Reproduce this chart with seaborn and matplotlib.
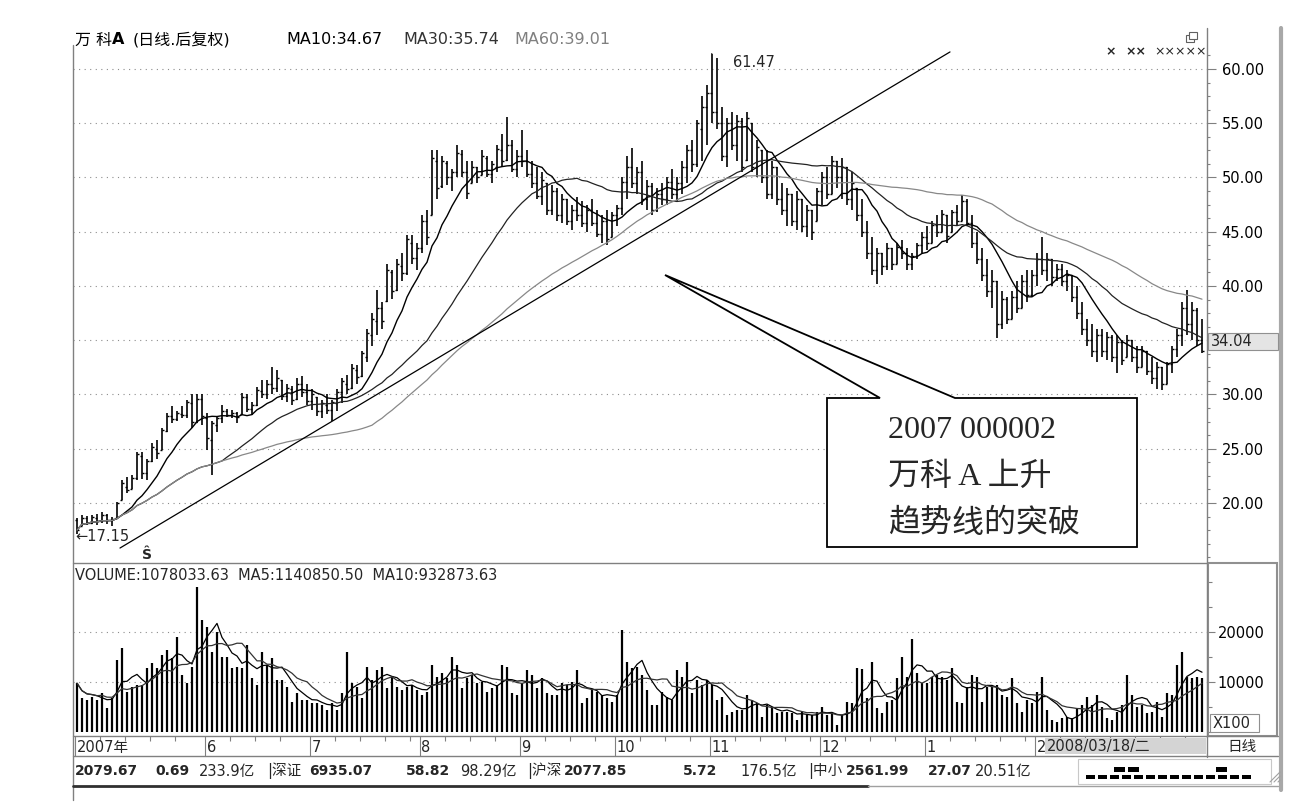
import numpy as np
import pandas as pd
import matplotlib
matplotlib.use("Agg")
import matplotlib.pyplot as plt
import seaborn as sns
from matplotlib.patches import Rectangle, Polygon
from matplotlib.ticker import MultipleLocator

# ---- daily bars (back-adjusted price, volume in x100 shares) ----
opens = [18.4, 17.9, 18.6, 18.2, 18.6, 18.3, 18.9, 18.4, 18.6, 20.3,
         21.5, 21.3, 22.3, 24.3, 22.8, 23.9, 25.0, 24.9, 26.6, 28.0,
         27.7, 28.2, 28.1, 29.2, 27.5, 29.6, 27.8, 25.8, 27.2, 27.8,
         28.5, 28.1, 28.3, 28.2, 29.8, 28.7, 29.0, 30.3, 30.0, 31.0,
         30.6, 31.3, 29.9, 30.5, 29.6, 31.0, 30.2, 29.4, 29.8, 28.5,
         29.0, 28.6, 29.2, 30.2, 31.0, 30.6, 32.3, 31.7, 33.5, 35.5,
         36.8, 38.0, 38.6, 41.3, 39.6, 41.8, 41.2, 44.0, 42.6, 43.5,
         46.0, 46.5, 51.5, 49.2, 51.3, 50.0, 50.5, 52.2, 50.5, 49.5,
         51.0, 50.2, 51.8, 50.3, 51.0, 52.5, 51.6, 53.0, 50.8, 52.0,
         51.5, 50.3, 49.5, 48.3, 49.5, 47.0, 48.8, 46.5, 48.0, 46.0,
         47.0, 46.5, 45.8, 47.0, 45.8, 44.8, 46.0, 44.5, 46.5, 47.2,
         49.6, 51.0, 49.5, 50.5, 48.0, 49.2, 47.0, 48.5, 48.0, 49.6,
         48.5, 49.5, 51.0, 52.5, 51.2, 54.5, 56.5, 57.8, 56.0, 55.0,
         52.0, 55.0, 53.0, 55.2, 51.6, 55.0, 51.0, 52.5, 50.0, 48.5,
         51.0, 48.0, 47.0, 48.5, 46.0, 48.0, 45.5, 47.0, 46.0, 48.8,
         50.0, 48.5, 51.5, 50.0, 51.0, 48.0, 49.0, 46.5, 45.0, 43.0,
         41.5, 43.0, 41.8, 43.5, 42.0, 43.6, 43.0, 42.0, 42.8, 43.8,
         44.5, 44.0, 45.6, 45.0, 46.5, 45.0, 46.8, 46.0, 47.8, 45.8,
         44.0, 42.5, 41.0, 39.5, 40.5, 36.5, 38.8, 37.0, 39.0, 38.0,
         40.5, 39.2, 41.0, 42.5, 41.5, 42.5, 40.8, 41.6, 40.5, 41.0,
         39.0, 37.5, 36.0, 35.0, 34.0, 35.5, 34.0, 35.3, 33.5, 34.8,
         33.5, 35.0, 33.5, 32.5, 34.0, 32.2, 31.5, 32.5, 31.0, 32.8,
         34.2, 35.5, 38.0, 36.5, 37.8, 35.0]

highs = [18.6, 18.9, 18.8, 18.9, 19.0, 19.2, 19.0, 18.7, 20.1, 22.1,
         22.4, 22.6, 24.7, 24.7, 24.1, 25.5, 25.8, 26.9, 28.3, 28.9,
         28.5, 28.9, 29.5, 30.0, 30.0, 30.0, 28.3, 27.6, 28.0, 29.0,
         28.7, 28.6, 28.4, 30.1, 30.0, 29.3, 30.7, 31.3, 31.3, 32.5,
         32.3, 31.3, 31.0, 30.8, 31.5, 31.7, 31.0, 30.5, 29.8, 29.5,
         30.0, 29.5, 30.5, 31.5, 31.8, 32.8, 32.7, 34.0, 36.0, 37.5,
         39.6, 38.5, 42.0, 41.5, 42.5, 43.0, 44.7, 44.7, 44.0, 46.5,
         47.0, 52.5, 52.5, 52.0, 51.5, 50.8, 53.0, 52.5, 51.5, 51.5,
         51.0, 52.5, 52.0, 51.5, 53.0, 54.0, 55.6, 53.5, 52.5, 54.4,
         52.5, 51.5, 51.0, 50.5, 49.5, 49.3, 49.0, 48.5, 48.0, 47.5,
         48.2, 47.8, 47.5, 48.0, 47.0, 46.5, 47.0, 46.8, 47.5, 50.0,
         52.0, 52.7, 51.0, 51.5, 49.8, 49.5, 49.0, 49.5, 50.0, 50.8,
         50.0, 51.5, 53.0, 53.5, 55.3, 57.5, 58.5, 61.47, 61.0, 56.5,
         55.5, 56.0, 55.8, 55.5, 56.0, 55.0, 53.5, 52.5, 52.5, 51.5,
         51.0, 49.5, 49.0, 48.5, 48.8, 48.0, 47.5, 47.0, 49.0, 50.5,
         51.0, 52.0, 51.5, 51.8, 51.0, 50.5, 49.0, 48.0, 46.0, 44.5,
         43.5, 43.0, 44.0, 43.5, 44.0, 44.2, 43.5, 43.0, 44.0, 45.0,
         45.5, 46.0, 46.5, 47.0, 46.5, 47.0, 47.5, 48.4, 48.0, 46.5,
         45.0, 43.5, 42.5, 41.5, 40.5, 39.5, 39.0, 39.5, 40.5, 41.0,
         41.5, 41.5, 43.0, 44.5, 43.0, 42.5, 42.0, 42.0, 41.5, 41.0,
         40.0, 38.5, 37.0, 36.5, 36.0, 36.0, 35.8, 35.5, 35.5, 35.0,
         35.5, 35.0, 34.5, 34.5, 34.0, 33.5, 33.0, 32.5, 33.0, 34.5,
         36.0, 38.5, 39.6, 38.5, 38.0, 37.0]

lows = [17.15, 17.9, 18.0, 18.1, 18.0, 18.2, 18.1, 17.9, 18.6, 20.3,
        20.9, 21.3, 22.1, 22.2, 22.1, 23.8, 24.1, 24.9, 26.5, 27.4,
        27.6, 27.8, 27.8, 26.9, 27.4, 27.2, 24.9, 22.6, 26.5, 27.4,
        27.9, 27.8, 27.4, 28.1, 28.4, 28.1, 28.9, 29.7, 29.6, 30.0,
        30.2, 29.5, 29.3, 29.0, 29.5, 29.8, 29.0, 28.6, 28.0, 27.8,
        28.2, 27.6, 28.5, 29.2, 30.0, 30.5, 31.0, 31.6, 33.0, 34.5,
        35.5, 36.0, 38.5, 38.8, 39.5, 40.5, 41.0, 42.0, 41.5, 43.0,
        43.8, 46.5, 48.0, 49.0, 49.3, 48.8, 50.0, 50.0, 48.0, 49.5,
        49.5, 50.2, 50.0, 49.5, 50.5, 51.0, 51.5, 50.5, 50.0, 51.0,
        50.0, 49.0, 48.0, 47.5, 46.5, 46.5, 46.0, 45.8, 45.6, 45.2,
        46.0, 45.4, 45.0, 45.5, 44.5, 44.0, 43.8, 44.5, 45.5, 46.5,
        48.0, 49.0, 48.5, 47.5, 47.0, 46.5, 46.8, 47.5, 47.5, 48.0,
        47.8, 48.5, 49.5, 50.5, 51.0, 51.5, 53.0, 55.0, 54.5, 51.5,
        51.0, 52.5, 51.5, 50.5, 51.5, 50.5, 50.0, 49.5, 48.0, 48.0,
        47.5, 46.5, 45.5, 45.5, 45.2, 45.0, 44.5, 44.2, 46.0, 47.5,
        48.0, 48.5, 49.0, 48.0, 47.5, 47.0, 46.0, 44.5, 42.5, 41.0,
        40.2, 41.0, 41.5, 41.5, 42.0, 42.5, 41.5, 41.5, 42.5, 43.0,
        43.3, 44.0, 44.5, 45.0, 44.0, 45.0, 45.5, 46.0, 45.5, 43.5,
        42.0, 40.5, 39.0, 38.0, 35.2, 36.0, 36.5, 37.0, 37.5, 38.0,
        38.5, 39.0, 40.0, 41.0, 40.5, 40.0, 40.5, 40.0, 39.5, 38.5,
        37.0, 35.5, 34.5, 33.5, 33.0, 33.5, 33.2, 33.0, 32.0, 32.7,
        33.5, 33.0, 32.0, 32.5, 31.8, 31.0, 30.5, 30.4, 31.0, 32.0,
        33.5, 34.5, 35.5, 35.0, 34.5, 33.8]

closes = [17.5, 18.6, 18.2, 18.7, 18.3, 18.9, 18.4, 18.5, 20.0, 21.8,
          21.2, 22.3, 24.5, 22.8, 23.9, 25.2, 24.6, 26.7, 28.0, 27.7,
          28.3, 28.1, 29.3, 27.5, 29.6, 28.0, 26.0, 27.4, 27.8, 28.5,
          28.1, 28.3, 27.9, 29.8, 28.7, 29.0, 30.4, 30.0, 31.0, 30.6,
          31.5, 29.9, 30.6, 29.5, 31.0, 30.2, 29.4, 30.0, 28.5, 29.2,
          28.6, 29.3, 30.2, 31.2, 30.5, 32.4, 31.6, 33.8, 35.7, 37.0,
          38.0, 36.8, 41.5, 39.5, 42.0, 41.2, 44.3, 42.6, 43.5, 46.0,
          44.5, 51.8, 49.0, 51.5, 50.0, 50.5, 52.3, 50.5, 48.6, 51.0,
          50.0, 52.0, 50.3, 51.2, 52.6, 51.5, 53.0, 50.8, 52.0, 51.5,
          50.3, 49.5, 48.3, 49.8, 47.0, 48.8, 46.5, 48.0, 46.0, 47.0,
          46.5, 45.8, 47.0, 45.8, 44.8, 46.0, 44.3, 46.5, 47.2, 49.6,
          51.0, 49.5, 50.5, 48.0, 49.2, 47.0, 48.5, 48.0, 49.6, 48.5,
          49.5, 51.0, 52.5, 51.2, 55.0, 56.5, 57.8, 56.0, 55.0, 52.0,
          55.0, 53.0, 55.2, 51.0, 55.5, 51.0, 52.8, 50.0, 48.5, 51.0,
          48.0, 47.0, 48.5, 46.0, 48.0, 45.5, 47.0, 45.0, 48.8, 50.0,
          48.5, 51.5, 50.0, 51.0, 48.0, 49.5, 46.5, 45.0, 43.0, 41.5,
          43.0, 41.8, 43.5, 42.0, 43.6, 43.0, 42.0, 42.8, 43.8, 44.5,
          44.0, 45.6, 45.0, 46.6, 44.6, 46.8, 46.0, 47.8, 45.8, 44.0,
          42.5, 41.0, 39.5, 40.5, 36.5, 38.8, 37.0, 39.0, 38.0, 40.5,
          39.2, 41.0, 42.5, 41.5, 42.5, 40.8, 41.6, 40.5, 41.0, 39.0,
          37.5, 36.0, 35.0, 34.0, 35.5, 34.0, 35.3, 33.5, 34.8, 33.2,
          35.0, 33.5, 32.5, 34.0, 32.2, 31.5, 32.5, 31.0, 32.8, 34.2,
          35.5, 38.0, 36.5, 37.8, 35.0, 34.04]

volume = [9700, 6700, 6300, 7000, 6300, 7700, 4700, 6700, 14300, 16700,
          8000, 9000, 9300, 9300, 12700, 13700, 12700, 15300, 16300, 14700,
          19000, 11300, 9700, 13000, 29000, 22300, 21000, 16000, 20000, 15000,
          15000, 12700, 13000, 12700, 17300, 10700, 9300, 16000, 13300, 14700,
          10300, 10300, 9000, 6000, 7700, 6300, 6300, 5700, 5700, 5300,
          4300, 5700, 4300, 7700, 16000, 9700, 9000, 6700, 13000, 10300,
          12300, 13000, 8700, 11000, 9000, 8300, 9000, 9300, 8300, 7300,
          8000, 13300, 11000, 11700, 10700, 15000, 13300, 8700, 10700, 11300,
          9700, 10000, 8000, 8700, 9300, 13300, 13000, 7700, 7300, 9700,
          12300, 11300, 8700, 10700, 7700, 7300, 7300, 9700, 9300, 10000,
          12300, 5700, 6700, 8300, 8000, 7300, 6700, 6000, 7300, 20300,
          14000, 12700, 13000, 11300, 8300, 5300, 5300, 8000, 7000, 6300,
          12300, 11000, 14000, 7700, 10300, 9300, 10300, 9300, 6300, 7000,
          3300, 4000, 4300, 4300, 7300, 6300, 5700, 3000, 5300, 4700,
          3700, 4000, 4000, 3700, 2300, 4000, 3300, 3300, 4000, 5000,
          3300, 3700, 1300, 3300, 6000, 5700, 12700, 12500, 6700, 14000,
          4700, 3700, 6000, 6300, 10700, 14900, 11000, 18500, 11700, 9700,
          9700, 11000, 11300, 11000, 10300, 12700, 6000, 5700, 9000, 11300,
          11000, 6000, 9000, 9000, 9300, 7300, 7000, 10700, 5700, 4000,
          6300, 5700, 8000, 11000, 4300, 2300, 2000, 2700, 3000, 2700,
          4700, 5300, 7000, 5300, 7300, 5000, 2700, 2300, 4000, 5300,
          11300, 7300, 5000, 5300, 3700, 4000, 6000, 3000, 7700, 7300,
          13300, 16000, 11000, 10700, 11000, 10800]

month_labels = ["2007年", "6", "7", "8", "9", "10", "11", "12", "1", "2"]
month_starts = [0, 26, 47, 69, 89, 108, 127, 149, 170, 192]

price_ticks = [20, 25, 30, 35, 40, 45, 50, 55, 60]
volume_ticks = [10000, 20000]

# hand-drawn uptrend line (bar index, price) at its two ends
trend_x = [8.6, 174.6]
trend_y = [15.85, 61.57]

# (text, x pixel, colour, bold)
title_parts = [("万 科", 75, "black", False),
               ("A", 112, "black", True),
               ("(日线.后复权)", 133, "black", False),
               ("MA10:34.67", 286, "black", False),
               ("MA30:35.74", 403, "#333333", False),
               ("MA60:39.01", 514, "#808080", False)]
volume_title = "VOLUME:1078033.63  MA5:1140850.50  MA10:932873.63"
callout_lines = ["2007 000002", "万科 A 上升", "趋势线的突破"]
last_date = "2008/03/18/二"

status_parts = [(75, "2079.67", True), (155, "0.69", True), (199, "233.9亿", False),
                (267, "|深证", False), (309, "6935.07", True), (406, "58.82", True),
                (460, "98.29亿", False), (527, "|沪深", False), (564, "2077.85", True),
                (683, "5.72", True), (740, "176.5亿", False), (808, "|中小", False),
                (846, "2561.99", True), (928, "27.07", True), (975, "20.51亿", False)]

#%%
df = pd.DataFrame({"idx": np.arange(len(closes)), "open": opens, "high": highs,
                   "low": lows, "close": closes, "vol": volume})
df["ma10"] = df["close"].rolling(10, min_periods=1).mean()
df["ma30"] = df["close"].rolling(30, min_periods=1).mean()
df["ma60"] = df["close"].rolling(60, min_periods=1).mean()
df["vma5"] = df["vol"].rolling(5, min_periods=1).mean()
df["vma10"] = df["vol"].rolling(10, min_periods=1).mean()

sns.set_theme(style="white")
plt.rcParams["font.family"] = ["DejaVu Sans", "Noto Sans CJK SC"]
plt.rcParams["axes.unicode_minus"] = False
CJK = ["DejaVu Sans", "Noto Sans CJK SC"]
SERIF = ["Liberation Serif", "Noto Sans CJK SC"]
GRID = dict(color="#8c8c8c", lw=0.8, ls=(0, (1, 4)), zorder=0)
FRAME = "#808080"

W, H = 1316, 805
fig = plt.figure(figsize=(W / 100, H / 100), dpi=100, facecolor="white")


def rect(x0, y0, x1, y1):
    return [x0 / W, 1 - y1 / H, (x1 - x0) / W, (y1 - y0) / H]


ax_p = fig.add_axes(rect(73, 45, 1207, 563))
ax_v = fig.add_axes(rect(73, 563, 1207, 736))
ax_x = fig.add_axes(rect(73, 736, 1207, 756))
xlim = (-0.8, len(closes))

#%%
# price panel: OHLC bars, moving averages, trend line
for y in price_ticks:
    ax_p.axhline(y, **GRID)
ax_p.vlines(df["idx"], df["low"], df["high"], color="black", lw=1.2)
ax_p.hlines(df["open"], df["idx"] - 0.45, df["idx"], color="black", lw=1.0)
ax_p.hlines(df["close"], df["idx"], df["idx"] + 0.45, color="black", lw=1.0)
sns.lineplot(data=df, x="idx", y="ma10", ax=ax_p, color="black", lw=1.0, errorbar=None)
sns.lineplot(data=df, x="idx", y="ma30", ax=ax_p, color="#222222", lw=0.9, errorbar=None)
sns.lineplot(data=df, x="idx", y="ma60", ax=ax_p, color="#888888", lw=0.9, errorbar=None)
ax_p.plot(trend_x, trend_y, color="black", lw=0.9)

imax = int(df["high"].idxmax())
ax_p.annotate(f"{df['high'].max():.2f}", xy=(imax, df["high"].max()),
              xytext=(15, -6.5), textcoords="offset points", ha="left", va="center",
              fontsize=10.5, arrowprops=dict(arrowstyle="-", lw=0.8, shrinkA=0, shrinkB=0))
imin = int(df["low"].idxmin())
ax_p.annotate(f"←{df['low'].min():.2f}", xy=(imin, df["low"].min()),
              xytext=(-1.5, -2), textcoords="offset points", ha="left", va="center",
              fontsize=10.5)

ax_p.set_xlim(*xlim)
ax_p.set_ylim(14.47, 62.21)
ax_p.set_yticks(price_ticks)
# the 35.00 label sits under the last-close box
ax_p.set_yticklabels(["" if t == 35 else f"{t:.2f}" for t in price_ticks])
ax_p.yaxis.set_minor_locator(MultipleLocator(1.25))
ax_p.tick_params(axis="y", which="both", right=True, left=False, labelright=True,
                 labelleft=False, direction="out", color=FRAME, width=0.8,
                 labelcolor="black", labelsize=10.5)
ax_p.tick_params(axis="y", which="major", length=6.5, pad=4)
ax_p.tick_params(axis="y", which="minor", length=2.5)
ax_p.set_xticks([])
ax_p.set_xlabel("")
ax_p.set_ylabel("")

#%%
# volume panel
for y in volume_ticks:
    ax_v.axhline(y, **GRID)
ax_v.vlines(df["idx"], 0, df["vol"], color="black", lw=1.6)
sns.lineplot(data=df, x="idx", y="vma5", ax=ax_v, color="black", lw=0.9, errorbar=None)
sns.lineplot(data=df, x="idx", y="vma10", ax=ax_v, color="#333333", lw=0.9, errorbar=None)
ax_v.set_xlim(*xlim)
ax_v.set_ylim(-860, 33740)
ax_v.set_yticks(volume_ticks)
ax_v.set_yticklabels([str(t) for t in volume_ticks])
ax_v.yaxis.set_minor_locator(MultipleLocator(5000))
ax_v.tick_params(axis="y", which="both", right=True, left=False, labelright=True,
                 labelleft=False, direction="out", color=FRAME, width=0.8,
                 labelcolor="black", labelsize=10.5)
ax_v.tick_params(axis="y", which="major", length=6, pad=1.5)
ax_v.tick_params(axis="y", which="minor", length=3.5)
ax_v.set_xticks([])
ax_v.set_xlabel("")
ax_v.set_ylabel("")
ax_v.text(0.002, 0.93, volume_title, transform=ax_v.transAxes, fontsize=10.5,
          va="center", ha="left")

#%%
# month axis row
ax_x.set_xlim(*xlim)
ax_x.set_ylim(0, 1)
for lab, s in zip(month_labels, month_starts):
    ax_x.vlines(s - 0.5, 0, 1, color=FRAME, lw=0.8)
    ax_x.text(s - 0.1, 0.45, lab, fontsize=10.5, va="center", ha="left", family=CJK)
for s, e in zip(month_starts, month_starts[1:] + [len(closes)]):
    for t in range(s + 5, e - 1, 5):
        ax_x.vlines(t - 0.5, 0.75, 1, color=FRAME, lw=0.8)
ax_x.set_xticks([])
ax_x.set_yticks([])

for a in (ax_p, ax_v, ax_x):
    for sp in a.spines.values():
        sp.set_visible(False)

#%%
# overlay in pixel coordinates: frame, labels, callout, status bar
ax_o = fig.add_axes([0, 0, 1, 1])
ax_o.set_xlim(0, W)
ax_o.set_ylim(H, 0)
ax_o.axis("off")

ax_o.plot([73, 73], [45, 800], color=FRAME, lw=1)
ax_o.plot([1207, 1207], [28, 757], color=FRAME, lw=1)
ax_o.plot([73, 1207], [563, 563], color=FRAME, lw=1)
ax_o.plot([73, 1278], [736, 736], color=FRAME, lw=1)
ax_o.plot([73, 1278], [756, 756], color=FRAME, lw=1)
ax_o.plot([73, 868], [786, 786], color="#303030", lw=2)
ax_o.plot([868, 1278], [786, 786], color="#a0a0a0", lw=1)
ax_o.plot([1281, 1281], [28, 790], color="#a8a8a8", lw=3)
ax_o.add_patch(Rectangle((1208, 563), 69, 173, fc="none", ec="#909090", lw=1.5))

for txt, x, c, bold in title_parts:
    ax_o.text(x, 40, txt, fontsize=11.5, color=c, va="center", ha="left", family=CJK,
              fontweight="bold" if bold else "normal")

# window icon and info markers top right
ax_o.add_patch(Rectangle((1186, 35), 8, 7, fc="white", ec="#606060", lw=0.8))
ax_o.add_patch(Rectangle((1189, 32), 8, 7, fc="white", ec="#606060", lw=0.8))
for x, txt, bold in [(1111, "×", True), (1136, "××", True), (1181, "×××××", False)]:
    ax_o.text(x, 52, txt, fontsize=9, ha="center", va="center",
              fontweight="bold" if bold else "normal")

ax_o.text(147, 555, "Ŝ", fontsize=10, fontweight="bold", ha="center", va="center")

# last-close box on the price axis
ax_o.add_patch(Rectangle((1208, 333), 70, 17, fc="#e4e4e4", ec="#909090", lw=0.8, zorder=5))
ax_o.text(1211, 341.5, f"{closes[-1]:.2f}", fontsize=10.5, va="center", ha="left", zorder=6)

# volume unit and period; date box sits just right of the partly hidden "2"
ax_o.add_patch(Rectangle((1210, 714), 49, 18, fc="white", ec="#909090", lw=0.8))
ax_o.text(1213, 723, "X100", fontsize=10.5, va="center", ha="left")
ax_o.text(1242, 746, "日线", fontsize=10.5, va="center", ha="center", family=CJK)
ax_o.add_patch(Rectangle((1045, 738), 161, 16, fc="#d4d4d4", ec="none", zorder=4))
ax_o.text(1047, 746, last_date, fontsize=10.5, va="center", ha="left", family=CJK, zorder=5)

# callout box with pointer
pts = [(827, 398), (880, 398), (665, 275), (955, 398), (1137, 398), (1137, 547), (827, 547)]
ax_o.add_patch(Polygon(pts, closed=True, fc="white", ec="black", lw=1.3, zorder=8))
for k, line in enumerate(callout_lines):
    ax_o.text(888, 438 + k * 47, line, fontsize=23, family=SERIF, fontweight="light",
              va="baseline", ha="left", zorder=9)

# status bar
for x, txt, bold in status_parts:
    ax_o.text(x, 771, txt, fontsize=10 if bold else 10.5, va="center", ha="left",
              fontweight="bold" if bold else "normal", family=CJK)
ax_o.add_patch(Rectangle((1078, 759), 193, 25, fc="none", ec="#c8c8c8", lw=0.8))
for x in range(1086, 1250, 12):
    ax_o.add_patch(Rectangle((x, 775), 9, 4, fc="black", ec="none"))
for x in [1114, 1128, 1216]:
    ax_o.add_patch(Rectangle((x, 767), 11, 5, fc="black", ec="none"))
for d in [0, 4, 8]:
    ax_o.plot([1270 + d, 1280], [782, 772 + d], color="#a0a0a0", lw=0.8)

fig.savefig("out.png", dpi=100, facecolor="white")
